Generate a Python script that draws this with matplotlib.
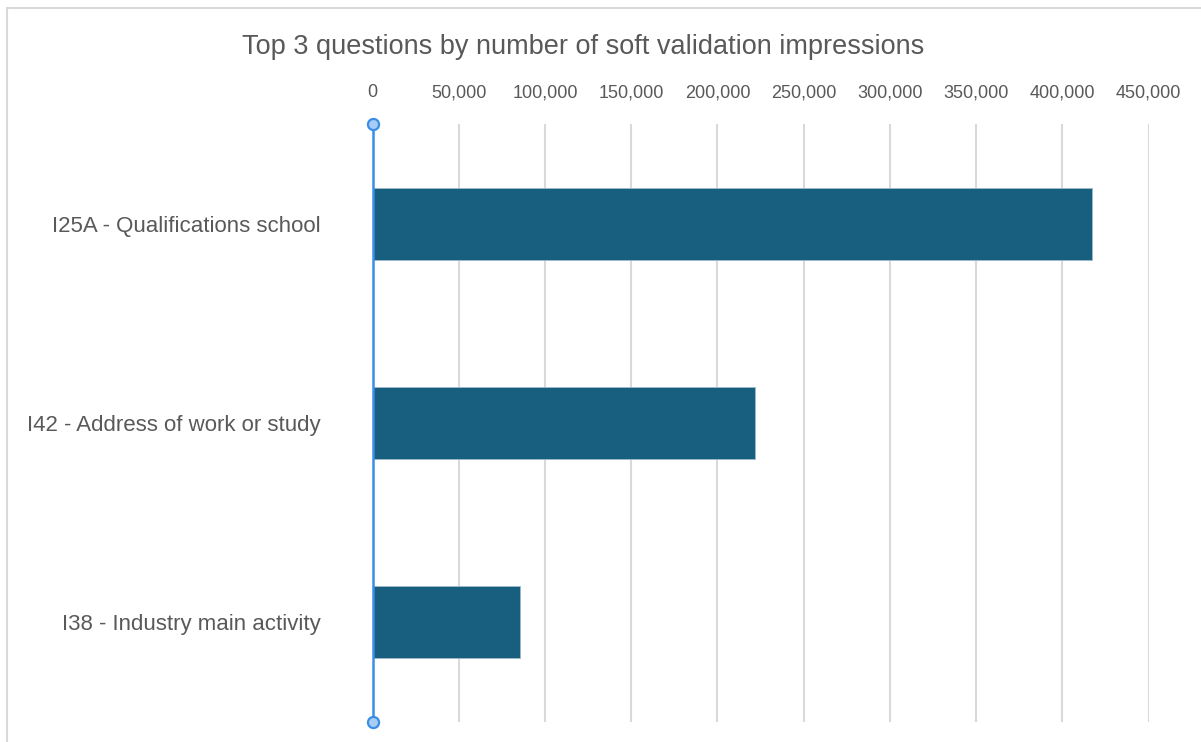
import matplotlib
matplotlib.use("Agg")
import matplotlib.pyplot as plt
from matplotlib.patches import Rectangle
from matplotlib.ticker import FuncFormatter, MultipleLocator

plt.rcParams['font.family'] = ['Liberation Sans', 'DejaVu Sans']

# Data
questions = ["I25A - Qualifications school",
             "I42 - Address of work or study",
             "I38 - Industry main activity"]
impressions = [417000, 222000, 85500]
tick_step = 50000
x_max = 450000

W, H = 1201, 742
fig = plt.figure(figsize=(W / 100, H / 100), dpi=100)
fig.patch.set_facecolor("white")

# light frame around the chart area
fig.patches.append(Rectangle((7 / W, -0.01), 1.0, (H - 8) / H + 0.01,
                             transform=fig.transFigure, fill=False,
                             edgecolor="#d9d9d9", linewidth=1.5))

left, right = 372.5 / W, 1148.5 / W
bottom, top = 1 - 722 / H, 1 - 124 / H
ax = fig.add_axes([left, bottom, right - left, top - bottom])

y = list(range(len(questions)))
ax.barh(y, impressions, height=0.36, color="#175e7f",
        edgecolor="#9dbccc", linewidth=0.6, zorder=3)

ax.set_xlim(0, x_max)
ax.set_ylim(len(questions) - 0.5, -0.5)
ax.xaxis.set_major_locator(MultipleLocator(tick_step))
ax.xaxis.set_major_formatter(FuncFormatter(lambda v, p: f"{int(v):,}"))
ax.xaxis.tick_top()
ax.tick_params(axis="x", length=0, pad=16.5, labelsize=13, labelcolor="#595959")
ax.tick_params(axis="y", length=0, pad=37, labelsize=16, labelcolor="#595959")
ax.set_yticks(y)
ax.set_yticklabels(questions)
ax.grid(axis="x", color="#d9d9d9", linewidth=1.5, zorder=0)
ax.set_axisbelow(True)
for s in ax.spines.values():
    s.set_visible(False)

# category axis line with end handles
ax.plot([0, 0], [-0.5, len(questions) - 0.5], color="#3a8ee6", linewidth=1.8,
        zorder=4, clip_on=False)
ax.plot([0, 0], [-0.5, len(questions) - 0.5], linestyle="none", marker="o",
        markersize=8, markerfacecolor="#a8cdf5", markeredgecolor="#3a8ee6",
        markeredgewidth=1.6, zorder=5, clip_on=False)

fig.text(583 / W, 1 - 47 / H, "Top 3 questions by number of soft validation impressions",
         ha="center", va="center", fontsize=19.5, color="#595959")

fig.savefig("out.png", dpi=100, facecolor="white")
